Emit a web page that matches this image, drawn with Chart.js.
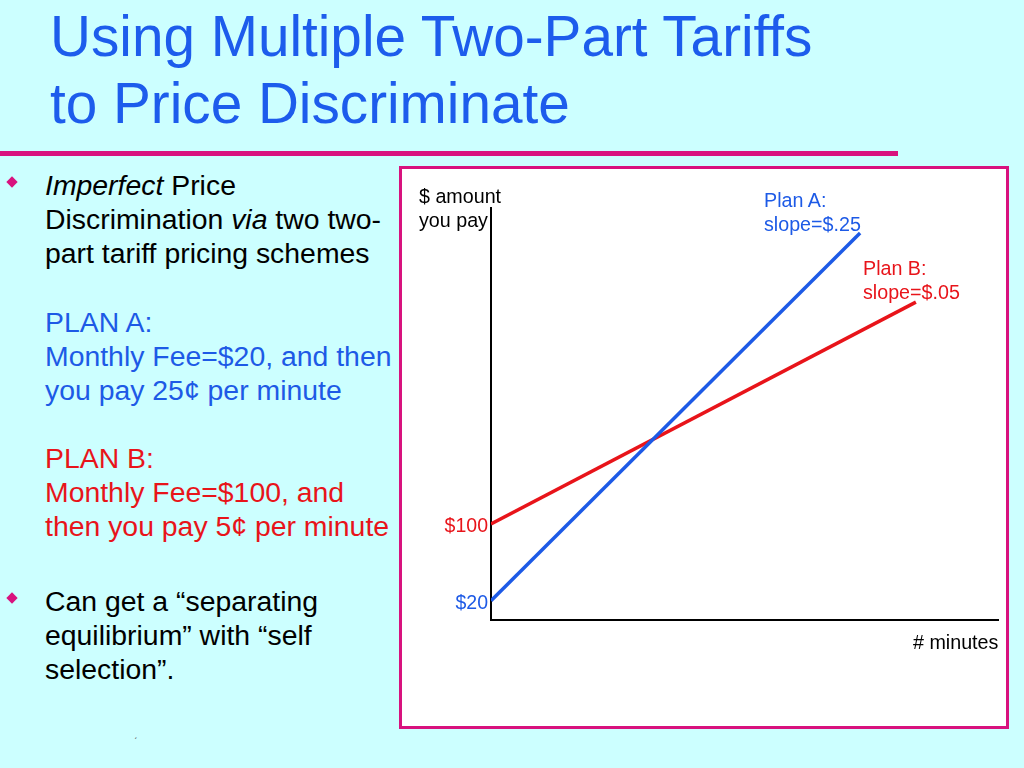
<!DOCTYPE html>
<html>
<head>
<meta charset="utf-8">
<script src="https://cdn.jsdelivr.net/npm/chart.js@4/dist/chart.umd.min.js"></script>
<style>
  html, body { margin:0; padding:0; }
  body { width:1024px; height:768px; background:#ccffff; position:relative; overflow:hidden;
         font-family:"Liberation Sans", Arial, sans-serif; }
  .abs { position:absolute; white-space:nowrap; }
  #title { left:50px; top:3px; font-size:56.7px; line-height:67px; color:#1d5cec; }
  #rule { left:0; top:151px; width:898px; height:5px; background:#d8127e; }
  .txt { left:45px; font-size:28.4px; line-height:34px; color:#000; }
  .blue { color:#1d5ae6; }
  .red { color:#e8141a; }
  .bullet { width:8px; height:8px; background:#d8127e; transform:rotate(45deg); }
  #box { left:399px; top:166px; width:604px; height:557px; border:3px solid #d8127e; background:#fff; }
  #chartWrap { left:402px; top:169px; width:604px; height:557px; }
  .small { font-size:19.7px; line-height:24px; }
</style>
</head>
<body>
<div id="title" class="abs">Using Multiple Two-Part Tariffs<br>to Price Discriminate</div>
<div id="rule" class="abs"></div>

<div class="abs bullet" style="left:8px;top:178px;"></div>
<div class="abs txt" style="top:168px;"><i>Imperfect</i> Price<br>Discrimination <i>via</i> two two-<br>part tariff pricing schemes</div>
<div class="abs txt blue" style="top:305px;">PLAN A:<br>Monthly Fee=$20, and then<br>you pay 25¢ per minute</div>
<div class="abs txt red" style="top:441px;">PLAN B:<br>Monthly Fee=$100, and<br>then you pay 5¢ per minute</div>
<div class="abs bullet" style="left:8px;top:594px;"></div>
<div class="abs txt" style="top:584px;">Can get a “separating<br>equilibrium” with “self<br>selection”.</div>
<div class="abs" style="left:134px;top:737px;font-size:10px;color:#555;">ˊ</div>

<div id="box" class="abs"></div>
<div id="chartWrap" class="abs"><canvas id="c" width="604" height="557"></canvas></div>

<div class="abs small" style="left:419px;top:184px;color:#000;">$ amount<br>you pay</div>
<div class="abs small blue" style="left:764px;top:188px;">Plan A:<br>slope=$.25</div>
<div class="abs small red" style="left:863px;top:256px;">Plan B:<br>slope=$.05</div>
<div class="abs small" style="left:913px;top:630px;color:#000;"># minutes</div>

<script>
// ---- data (schematic values) ----
const minutesA = [0, 728];
const planA    = [20, 403];
const minutesB = [0, 838];
const planB    = [100, 331];
const yTickValues = [20, 100];
const yTickLabels = ['$20', '$100'];
const seriesNames = ['Plan A', 'Plan B'];

const BLUE = '#1d5ae6';
const RED  = '#e8141a';

const toPoints = (xs, ys) => xs.map((x, i) => ({ x: x, y: ys[i] }));

new Chart(document.getElementById('c'), {
  type: 'line',
  data: {
    datasets: [
      { label: seriesNames[0], data: toPoints(minutesA, planA), borderColor: BLUE,
        borderWidth: 3.5, pointRadius: 0, fill: false, tension: 0 },
      { label: seriesNames[1], data: toPoints(minutesB, planB), borderColor: RED,
        borderWidth: 3.5, pointRadius: 0, fill: false, tension: 0 }
    ]
  },
  options: {
    responsive: false,
    animation: false,
    devicePixelRatio: 1,
    layout: { padding: { top: 39, right: 8, bottom: 106, left: 0 } },
    plugins: { legend: { display: false }, tooltip: { enabled: false } },
    scales: {
      x: {
        type: 'linear', min: 0, max: 1000,
        grid: { display: false, drawTicks: false },
        border: { display: true, color: '#000', width: 2 },
        ticks: { display: false },
        afterFit: (s) => { s.height = 0; }
      },
      y: {
        type: 'linear', min: 0, max: 429,
        grid: { display: false, drawTicks: false },
        border: { display: true, color: '#000', width: 2 },
        afterBuildTicks: (s) => { s.ticks = yTickValues.map(v => ({ value: v })); },
        afterFit: (s) => { s.width = 89; },
        ticks: {
          padding: 3,
          labelOffset: 3,
          font: { family: '"Liberation Sans", Arial, sans-serif', size: 19.5 },
          color: (ctx) => (ctx.tick && ctx.tick.value === 100) ? RED : BLUE,
          callback: (v) => yTickLabels[yTickValues.indexOf(v)]
        }
      }
    }
  }
});
</script>
</body>
</html>
